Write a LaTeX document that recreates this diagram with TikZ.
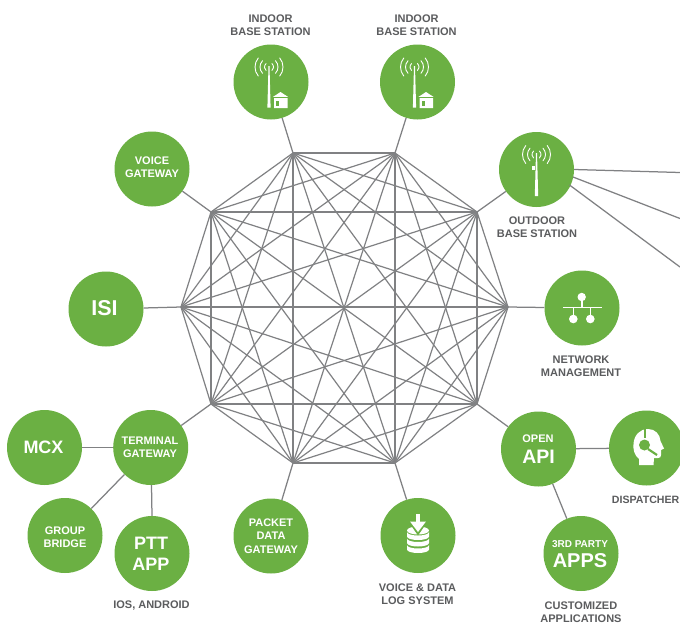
\documentclass[tikz,border=0pt]{standalone}
\usepackage{fontspec}
\setmainfont{Liberation Sans}
\definecolor{grn}{HTML}{6BB043}
\definecolor{lin}{HTML}{808183}
\definecolor{txt}{HTML}{5B5C5E}
\tikzset{
  hub/.style={circle,fill=grn,minimum size=75pt,inner sep=0pt,draw=none},
  meshline/.style={draw=lin,line width=1.2pt},
  link/.style={draw=lin,line width=1.25pt},
  intxt/.style={text=white,font=\bfseries\fontsize{11}{13.5}\selectfont,align=center,inner sep=0pt},
  bigtxt/.style={text=white,font=\bfseries\fontsize{18}{24}\selectfont,align=center,inner sep=0pt},
  captxt/.style={text=txt,font=\bfseries\fontsize{11}{13.3}\selectfont,align=center,inner sep=0pt},
  wave/.style={draw=white,line width=0.9pt,line cap=round},
  wfill/.style={fill=white,draw=none}
}
\newcommand{\airwaves}[1]{%
  \begin{scope}[shift={(#1)}]
    \foreach \r/\a in {4.5/50,9/44,14/40}{
      \draw[wave] ({-\r*cos(\a)},{-\r*sin(\a)}) arc[start angle=180+\a,end angle=180-\a,radius=\r];
      \draw[wave] ({\r*cos(\a)},{-\r*sin(\a)}) arc[start angle=-\a,end angle=\a,radius=\r];
    }
  \end{scope}}
\newcommand{\indooricon}[1]{%
  \begin{scope}[shift={(#1)}]
    \airwaves{0,-15}
    \fill[white] (-0.5,-16) -- (0.5,-16) -- (1.6,25.5) -- (-1.6,25.5) -- cycle;
    \fill[white] (5,26) -- (5,15) -- (3.8,15) -- (11.5,10) -- (19.2,15) -- (18.5,15) -- (18.5,26) -- cycle;
    \fill[grn] (7,18.5) rectangle (10,24);
    \fill[grn] (3,15.4) rectangle (20,16.2);
  \end{scope}}
\begin{document}
\begin{tikzpicture}[x=1pt,y=-1pt]
\useasboundingbox (0,0) rectangle (680,624);
\fill[white] (0,0) rectangle (680,624);
% decagon vertices
\coordinate (v0) at (293,153);
\coordinate (v1) at (395,153);
\coordinate (v2) at (477,212);
\coordinate (v3) at (508,307);
\coordinate (v4) at (477,404);
\coordinate (v5) at (395,463);
\coordinate (v6) at (293,463);
\coordinate (v7) at (211,404);
\coordinate (v8) at (181,307);
\coordinate (v9) at (211,212);
\foreach \i in {0,...,8}{
  \pgfmathtruncatemacro{\s}{\i+1}
  \foreach \j in {\s,...,9}{ \draw[meshline] (v\i) -- (v\j); }
}
% hubs
\node[hub] (in1) at (271,82) {};
\node[hub] (in2) at (417.5,82) {};
\node[hub] (out) at (536.5,169.5) {};
\node[hub] (net) at (582,308) {};
\node[hub] (api) at (538.5,449) {};
\node[hub] (dsp) at (646.5,448) {};
\node[hub] (app) at (581,553.5) {};
\node[hub] (log) at (418,535.5) {};
\node[hub] (pkt) at (271,536) {};
\node[hub] (tgw) at (150.7,447.5) {};
\node[hub] (mcx) at (44.5,447.5) {};
\node[hub] (grp) at (65,535.5) {};
\node[hub] (ptt) at (152,553.5) {};
\node[hub] (isi) at (106,309) {};
\node[hub] (vgw) at (152,169) {};
\coordinate (e1) at (680,172.5);
\coordinate (e2) at (680,218.5);
\coordinate (e3) at (680,267);
% connectors
\draw[link] (v0) -- (in1);
\draw[link] (v1) -- (in2);
\draw[link] (v2) -- (out);
\draw[link] (v3) -- (net);
\draw[link] (v4) -- (api);
\draw[link] (v5) -- (log);
\draw[link] (v6) -- (pkt);
\draw[link] (v7) -- (tgw);
\draw[link] (v8) -- (isi);
\draw[link] (v9) -- (vgw);
\draw[link] (api) -- (dsp);
\draw[link] (api) -- (app);
\draw[link] (tgw) -- (mcx);
\draw[link] (tgw) -- (grp);
\draw[link] (tgw.south) ++(0.8,0) -- (ptt.north);
\draw[link] (out.east) -- (e1);
\draw[link] (out) ++(36.5,7.5) -- (e2);
\draw[link] (out) ++(33,15.5) -- (e3);
% hub texts
\node[intxt] at (152,167) {VOICE\\GATEWAY};
\node[bigtxt,font=\bfseries\fontsize{21.5}{24}\selectfont] at (104.5,308.5) {ISI};
\node[bigtxt] at (43.5,447.5) {MCX};
\node[intxt] at (150,447.5) {TERMINAL\\GATEWAY};
\node[intxt] at (65,537) {GROUP\\BRIDGE};
\node[bigtxt,font=\bfseries\fontsize{18}{21}\selectfont] at (151,554) {PTT\\APP};
\node[intxt] at (271,536) {PACKET\\DATA\\GATEWAY};
\node[intxt,anchor=base] at (538,442) {OPEN};
\node[bigtxt,anchor=base,font=\bfseries\fontsize{19.5}{24}\selectfont] at (538.5,463) {API};
\node[intxt,anchor=base,font=\bfseries\fontsize{10}{12}\selectfont] at (580,547) {3RD PARTY};
\node[bigtxt,anchor=base,font=\bfseries\fontsize{20}{24}\selectfont] at (580,567) {APPS};
% captions
\node[captxt] at (270.5,25) {INDOOR\\BASE STATION};
\node[captxt] at (416.5,25) {INDOOR\\BASE STATION};
\node[captxt] at (537,227.5) {OUTDOOR\\BASE STATION};
\node[captxt] at (581,366) {NETWORK\\MANAGEMENT};
\node[captxt,anchor=east,font=\bfseries\fontsize{10.6}{13}\selectfont] at (679.5,499.5) {DISPATCHER};
\node[captxt] at (151.5,605.5) {IOS, ANDROID};
\node[captxt] at (417.5,594) {VOICE \& DATA\\LOG SYSTEM};
\node[captxt] at (581,612) {CUSTOMIZED\\APPLICATIONS};
% icons
\indooricon{269,82}
\indooricon{414.5,82}
% outdoor tower
\airwaves{536.5,154.5}
\fill[white] (536,153) -- (537,153) -- (538.2,196) -- (534.8,196) -- cycle;
\fill[white] (531.7,165.5) rectangle (535,170);
% network
\fill[white] (581.7,297) circle (4.2);
\fill[wfill] (581,300) rectangle (582.5,308);
\fill[wfill] (563,306.5) rectangle (602,308.2);
\fill[wfill] (572.6,308) rectangle (574.1,316);
\fill[wfill] (589.6,308) rectangle (591.1,316);
\fill[white] (573.3,319) circle (4.3);
\fill[white] (590.3,319) circle (4.3);
% storage
\foreach \y in {0,1,2}{
  \fill[white] (407,{532+\y*6.5}) -- (407,{536.5+\y*6.5}) arc[start angle=180,end angle=0,x radius=11,y radius=3.5] -- (429,{532+\y*6.5}) arc[start angle=0,end angle=180,x radius=11,y radius=3.5] -- cycle;
}
\fill[white] (418,530.5) ellipse (11 and 4);
\fill[grn] (407,519.5) -- (429,519.5) -- (418,535.5) -- cycle;
\fill[white] (415.8,514) rectangle (420.2,522);
\fill[white] (410,521.5) -- (426,521.5) -- (418,532) -- cycle;
% dispatcher
\fill[white] (639,465) -- (639,459) .. controls (634,455) and (633,449) .. (633.5,444)
  .. controls (634,435) and (640,429) .. (648,429)
  .. controls (655,429) and (660,434) .. (660.5,441)
  -- (664,448.5) -- (661,450) -- (661,455) .. controls (661,457) and (660,458) .. (658,458)
  -- (654,458) -- (653.5,465) -- cycle;
\fill[grn] (644.2,428) rectangle (646,438);
\fill[grn] (644.5,445) circle (5.5);
\draw[grn,line width=2.2pt] (648,449) -- (657,455);
\end{tikzpicture}
\end{document}
